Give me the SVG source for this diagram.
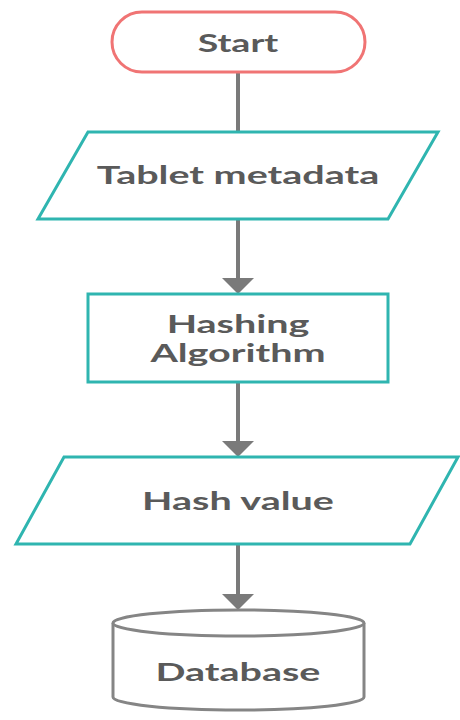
<svg xmlns="http://www.w3.org/2000/svg" width="460" height="720" viewBox="0 0 460 720">
  <style>
    .label { font-family: Lato, "Liberation Sans", sans-serif; font-weight: 700; font-size: 25px; fill: #5a5a5a; text-anchor: middle; }
    .io { fill: #ffffff; stroke: #2fb5b0; stroke-width: 3; stroke-linejoin: miter; }
    .proc { fill: #ffffff; stroke: #2fb5b0; stroke-width: 3; }
    .term { fill: #ffffff; stroke: #f07474; stroke-width: 3; }
    .db { fill: #ffffff; stroke: #858585; stroke-width: 3; }
    .edge { stroke: #7a7a7a; stroke-width: 4; fill: none; }
    .head { fill: #7a7a7a; }
  </style>
  <rect width="460" height="720" fill="#ffffff"/>

  <!-- connectors -->
  <g id="connectors">
    <line class="edge" x1="238" y1="72" x2="238" y2="132"/>
    <line class="edge" x1="238" y1="219" x2="238" y2="280"/>
    <polygon class="head" points="222,278 254,278 238,294"/>
    <line class="edge" x1="238" y1="382" x2="238" y2="443"/>
    <polygon class="head" points="222,441 254,441 238,457"/>
    <line class="edge" x1="238" y1="544" x2="238" y2="596"/>
    <polygon class="head" points="222,594 254,594 238,610"/>
  </g>

  <!-- labels are drawn wide: each one is stretched horizontally -->
  <g id="start">
    <rect class="term" x="112" y="12" width="253" height="60" rx="30" ry="30"/>
    <text class="label" transform="translate(238,52) scale(1.5,1)">Start</text>
  </g>

  <g id="tablet-metadata">
    <polygon class="io" points="88,132 438,132 388,219 38,219"/>
    <text class="label" transform="translate(238,184) scale(1.58,1)">Tablet metadata</text>
  </g>

  <g id="hashing-algorithm">
    <rect class="proc" x="88" y="294" width="300" height="88"/>
    <text class="label" transform="translate(238,333) scale(1.58,1)">Hashing</text>
    <text class="label" transform="translate(238,362) scale(1.58,1)">Algorithm</text>
  </g>

  <g id="hash-value">
    <polygon class="io" points="64,457 458,457 410,544 16,544"/>
    <text class="label" transform="translate(238,510) scale(1.58,1)">Hash value</text>
  </g>

  <g id="database">
    <path class="db" d="M113,623 L113,697 A125,13 0 0 0 364,697 L364,623"/>
    <ellipse class="db" cx="238.5" cy="623" rx="125.5" ry="13"/>
    <text class="label" transform="translate(238,681) scale(1.58,1)">Database</text>
  </g>
</svg>
